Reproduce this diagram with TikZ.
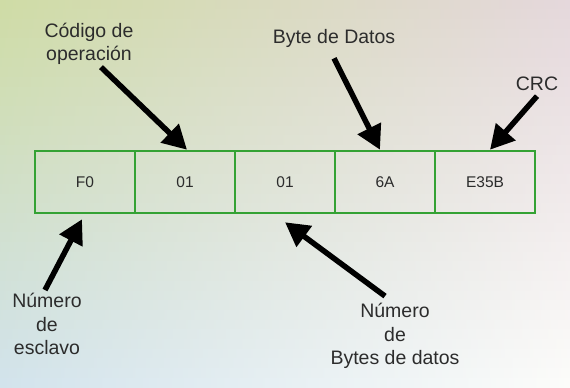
\documentclass[tikz,border=0pt]{standalone}
\usepackage{fontspec}
\setmainfont{Liberation Sans}
\usetikzlibrary{arrows.meta}

\definecolor{cellgreen}{HTML}{34A234}
\definecolor{txtgrey}{HTML}{2C2C2C}
\definecolor{bgtl}{HTML}{CFDCA6}
\definecolor{bgtr}{HTML}{E5D8DC}
\definecolor{bgbl}{HTML}{D2E3EC}
\definecolor{bgbr}{HTML}{FCFCFA}

\begin{document}
\begin{tikzpicture}[x=1pt,y=-1pt,
    cell/.style={draw=cellgreen, line width=2.5pt, minimum width=100pt,
      minimum height=62pt, inner sep=0pt, text=txtgrey,
      font=\fontsize{15.5}{18}\selectfont},
    lbl/.style={align=center, text=txtgrey, inner sep=1pt,
      font=\fontsize{19.5}{23.5}\selectfont},
    pointer/.style={line width=5.5pt, -{Triangle[length=24pt,width=25pt]}}]
    \useasboundingbox (0,0) rectangle (570,388);
    % background, in strips
    \foreach \i in {0,...,39}{
      \pgfmathtruncatemacro{\p}{100*\i/39}
      \fill[left color=bgbl!\p!bgtl, right color=bgbr!\p!bgtr]
        (0,{\i*9.7}) rectangle (570,{(\i+1)*9.7+0.5});
    }
    % frame
    \node[cell] (esclavo) at ( 85,182) {F0};
    \node[cell] (oper)    at (185,182) {01};
    \node[cell] (nbytes)  at (285,182) {01};
    \node[cell] (datos)   at (385,182) {6A};
    \node[cell] (crc)     at (485,182) {E35B};
    % labels
    \node[lbl] (lopr) at ( 89, 44) {Código de\\operación};
    \node[lbl] (ldat) at (334, 38) {Byte de Datos};
    \node[lbl] (lcrc) at (537, 84) {CRC};
    \node[lbl] (lesc) at ( 47,324) {Número\\de\\esclavo};
    \node[lbl] (lnum) at (395,336) {Número\\de\\Bytes de datos};
    % arrows
    \draw[pointer] ([xshift=12pt,yshift=-1pt]lopr.south) -- ([xshift=2pt]oper.north);
    \draw[pointer] ([yshift=-10pt]ldat.south) -- ([xshift=-5pt]datos.north);
    \draw[pointer] ([yshift=-4pt]lcrc.south) -- ([xshift=5pt]crc.north);
    \draw[pointer] ([xshift=-2pt,yshift=2pt]lesc.north) -- ([xshift=-3pt,yshift=-5pt]esclavo.south);
    \draw[pointer] ([xshift=-10pt,yshift=6pt]lnum.north) -- ([yshift=-8pt]nbytes.south);
\end{tikzpicture}
\end{document}
